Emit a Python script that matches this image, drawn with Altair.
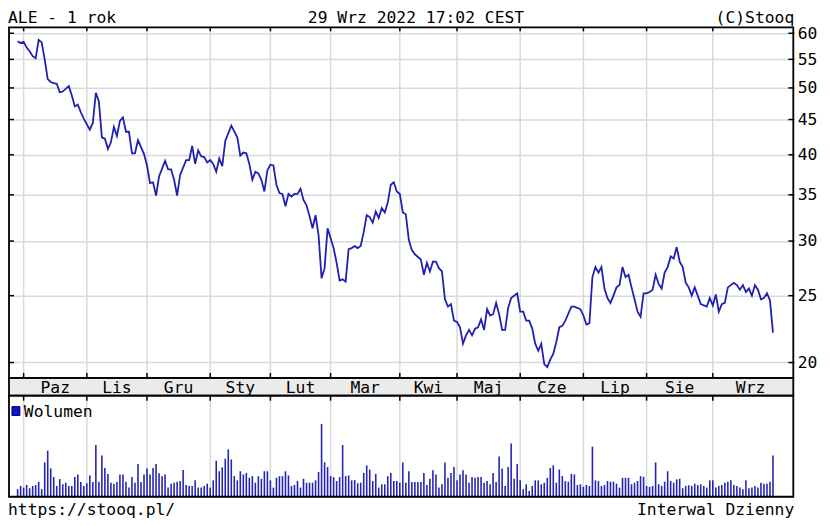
import altair as alt
import pandas as pd

# ---------------- data ----------------
month_names = ["Paz", "Lis", "Gru", "Sty", "Lut", "Mar", "Kwi", "Maj", "Cze", "Lip", "Sie", "Wrz"]
# trading-day index of the first session of each month (0 = 1 Oct 2021)
month_start_day = [0, 21, 41, 62, 82, 102, 125, 144, 165, 186, 207, 229]
price_tick_values = [20, 25, 30, 35, 40, 45, 50, 55, 60]

price_day = [
    -2, -1, 0, 1, 2, 3, 4, 5, 6, 7, 8, 9, 10, 11, 12, 13, 15, 16, 17, 18, 19, 20, 22, 23, 24,
    25, 26, 27, 28, 29, 30, 31, 32, 33, 34, 35, 36, 37, 38, 40, 41, 42, 43, 44, 45, 47, 48, 49,
    50, 51, 52, 54, 55, 56, 57, 58, 59, 60, 61, 62, 63, 64, 65, 66, 67, 69, 71, 72, 73, 74, 75,
    76, 77, 78, 79, 80, 81, 82, 83, 84, 85, 86, 87, 88, 89, 90, 91, 92, 93, 94, 95, 96, 97, 98,
    99, 100, 101, 103, 104, 105, 106, 107, 108, 109, 110, 111, 112, 113, 114, 115, 116, 117,
    118, 119, 120, 121, 122, 123, 124, 125, 126, 127, 128, 129, 130, 132, 133, 134, 135, 136,
    137, 138, 139, 140, 141, 142, 143, 144, 145, 146, 147, 148, 149, 150, 151, 152, 153, 154,
    155, 156, 157, 158, 159, 160, 161, 162, 164, 165, 166, 167, 168, 169, 170, 171, 172, 173,
    174, 175, 176, 177, 178, 179, 180, 182, 183, 185, 186, 187, 188, 189, 190, 191, 192, 193,
    194, 195, 196, 197, 198, 199, 200, 201, 202, 203, 204, 205, 206, 207, 208, 209, 210, 211,
    212, 213, 214, 215, 216, 217, 218, 219, 220, 221, 222, 223, 224, 225, 227, 228, 229, 230,
    231, 232, 233, 234, 236, 237, 238, 239, 240, 241, 242, 243, 244, 245, 246, 247, 248, 249,
]
price_close = [
    58.4, 58.1, 58.3, 57.2, 56.5, 55.6, 55.2, 58.7, 58.2, 55.0, 51.5, 51.0, 50.8, 50.7, 49.3, 49.4,
    50.3, 48.8, 47.0, 47.3, 46.1, 45.1, 43.5, 44.5, 49.2,
    47.8, 42.4, 42.2, 40.8, 41.7, 43.9, 42.6, 44.8, 45.3, 43.2, 43.2, 40.2, 40.2, 42.0, 40.1, 38.6,
    36.4, 36.5, 34.9, 37.2, 39.2, 38.1, 38.1,
    36.8, 34.9, 37.4, 39.3, 39.3, 41.2, 38.8, 40.6, 39.8, 39.7, 39.0, 39.3, 38.8, 37.8, 39.5, 38.5,
    41.9, 44.1, 42.4, 39.9, 40.3, 40.2, 38.8,
    36.8, 37.8, 37.6, 36.8, 35.4, 38.0, 38.7, 38.6, 36.2, 35.2, 35.1, 33.7, 35.1, 34.8, 35.1, 35.1,
    35.7, 34.4, 33.8, 32.6, 31.3, 32.7, 30.6,
    26.5, 27.4, 31.3, 29.3, 27.9, 26.3, 26.4, 26.2, 29.2, 29.3, 29.5, 29.3, 29.5, 30.9, 32.7, 32.5,
    31.9, 33.1,
    32.4, 33.5, 33.0, 34.1, 36.2, 36.5, 35.4, 35.1, 33.0, 32.8, 30.1, 29.1, 28.7, 28.2, 26.8, 27.9,
    27.1, 28.0,
    28.0, 27.4, 27.1, 24.7, 24.1, 24.3, 23.0, 22.9, 22.5, 21.3, 21.9, 22.3, 21.9, 22.4, 22.5, 23.1,
    22.3, 23.9,
    23.4, 23.5, 24.4, 23.5, 22.3, 22.3, 24.0, 24.8, 25.2, 23.7, 23.7, 23.0, 23.0, 22.4, 21.3, 20.8,
    21.3, 19.9,
    19.7, 20.2, 20.6, 21.4, 22.5, 22.6, 23.0, 24.1, 24.1, 23.9, 23.4, 22.7, 22.8, 26.6, 27.5, 27.0,
    27.5, 25.6,
    24.8, 24.4, 25.0, 25.7, 25.9, 27.5, 26.6, 26.8, 25.7, 24.7, 23.7, 23.3, 25.2, 25.2, 25.3, 25.5,
    26.8, 26.0,
    25.6, 27.0, 27.5, 28.5, 28.3, 29.4, 28.0, 27.5, 26.1, 25.7, 25.0, 25.7, 25.0, 24.3, 24.1, 24.8,
    24.2, 25.1,
    23.7, 24.3, 24.4, 25.7, 26.1, 25.9, 25.5, 25.9, 25.3, 25.6, 25.0, 25.9, 25.5, 24.7, 24.8, 25.2,
    24.6, 22.1,
]

volume_first_day = -2
volume = [
    7.7, 11, 9.3, 12, 8.7, 11, 12, 15.3, 7.7, 35, 47, 29, 20, 11, 18, 12.7, 14.3, 11, 11, 20,
    22.7, 15, 11, 13.7, 21.7, 15, 52.7, 15.3, 42, 29.3, 23.3, 14.3, 13.3, 15, 22.7, 22.7, 15.3,
    9.3, 20, 14.3, 33.3, 15, 22.7, 28.7, 22.7, 29.3, 33.3, 24, 21, 22.7, 9.3, 13.3, 14.3, 15.3,
    16, 27.3, 12, 11, 11, 16.7, 9.3, 9.3, 11, 13.3, 9.3, 16.7, 36.7, 26, 30, 38.7, 48.3, 38, 21,
    16.7, 26, 22.7, 24.3, 19.3, 21, 14.3, 21, 18.3, 26, 26, 16.7, 9.3, 19.3, 21, 21, 26, 21.7,
    11, 12, 16, 9.3, 18.3, 14.3, 14.3, 14.3, 16.7, 25.3, 74.3, 35, 30.3, 21, 20, 16, 20, 52.7,
    21, 21.7, 16.7, 17, 13.7, 14.3, 24.3, 32, 27.7, 16, 23.3, 9.3, 12.7, 12.7, 21, 24.3, 16, 16,
    14.3, 35, 14.3,
    26, 15, 15, 15, 15, 24.3, 12, 18.3, 27, 22.7, 9.3, 12.7, 35, 19.3, 24.3, 30.3, 16.7, 22.7,
    27, 22.7, 14.3, 20, 19.3, 20, 20, 14.3, 16, 12.7, 24.3, 15, 41, 28.7, 11, 30.3, 54.3, 18.3,
    33.3, 16.7, 7.7, 12.7, 6, 11, 16.7, 16.7, 12.7, 14.3, 19.3, 29.3, 32, 14.3, 27.7, 21, 16,
    15.3, 23.3, 22.7, 12, 12.7, 10.3, 12, 11, 51, 16.7, 16, 11, 12, 16, 15.3, 15.3, 13.3, 9.3,
    19.3, 19.3, 19.3, 12.7, 14.3, 16, 21, 20.3, 11, 10, 11, 35, 12.7, 11, 15.3, 26, 16, 14.3,
    17.7, 18.3, 8.7, 11, 11.7, 11, 13.3, 12,
    12.7, 11, 9.3, 16.7, 16.7, 9.3, 11, 12, 14.3, 15.3, 16.7, 12, 11, 9.3, 7.7, 16.7, 8.7, 9.3,
    11, 9.3, 14.3, 13.3, 13.3, 15.3, 42,
]
volume_domain = [0, 103]
price_domain = [19, 61.2]
day_domain = [-3.22, 254.1]

# ---------------- layout ----------------
W, PH, BAND, VH = 792, 354, 18, 102
H = PH + BAND + VH
FONT = "DejaVu Sans Mono"
FS = 16.5
LINE_BLUE = "#1f1fb4"
BAR_BLUE = "#2424b4"
GRID = "#d9d9d9"

price_df = pd.DataFrame({"day": price_day, "close": price_close})
vol_df = pd.DataFrame({
    "day": list(range(volume_first_day, volume_first_day + len(volume))),
    "volume": volume,
})
ends = month_start_day[1:] + [day_domain[1]]
month_df = pd.DataFrame({
    "day": month_start_day,
    "mid": [(a + b) / 2 for a, b in zip(month_start_day, ends)],
    "name": month_names,
})
tick_df = pd.DataFrame({"v": price_tick_values})
one = pd.DataFrame({"k": [0]})

x_scale = alt.Scale(domain=day_domain, nice=False, zero=False)
p_scale = alt.Scale(type="log", domain=price_domain, range=[PH, 0], nice=False)
v_scale = alt.Scale(domain=volume_domain, range=[H, H - VH], nice=False, zero=True)


def X(field):
    return alt.X(field, scale=x_scale, axis=None)


def rect(y0, y1, **kw):
    return alt.Chart(one).mark_rect(**kw).encode(
        x=alt.value(0), x2=alt.value(W), y=alt.value(y0), y2=alt.value(y1))


def label(txt, x, y, align):
    return alt.Chart(one).mark_text(font=FONT, fontSize=FS, align=align,
                                    baseline="alphabetic", color="black").encode(
        x=alt.value(x), y=alt.value(y), text=alt.value(txt))


def month_rules(y0, y1, color, width):
    return alt.Chart(month_df).mark_rule(color=color, strokeWidth=width).encode(
        x=X("day:Q"), y=alt.value(y0), y2=alt.value(y1))


def price_ticks(x0, x1):
    return alt.Chart(tick_df).mark_rule(color="black", strokeWidth=1.5).encode(
        y=alt.Y("v:Q", scale=p_scale, axis=None), x=alt.value(x0), x2=alt.value(x1))


band = rect(PH, PH + BAND, fill="#ebebeb", stroke="black", strokeWidth=1.8)
price_frame = rect(0, PH, fillOpacity=0, stroke="black", strokeWidth=1.8)
vol_frame = rect(PH + BAND, H, fillOpacity=0, stroke="black", strokeWidth=1.8)

price_line = alt.Chart(price_df).mark_line(color=LINE_BLUE, strokeWidth=1.8).encode(
    x=X("day:Q"),
    y=alt.Y("close:Q", scale=p_scale,
            axis=alt.Axis(orient="right", values=price_tick_values, grid=True, gridColor=GRID,
                          gridWidth=1.5, ticks=False, domain=False, labelFont=FONT,
                          labelFontSize=FS, labelColor="black", labelPadding=4, title=None)),
)

vol_bars = alt.Chart(vol_df).mark_bar(size=1.6, color=BAR_BLUE, strokeWidth=0).encode(
    x=X("day:Q"),
    y=alt.Y("volume:Q", scale=v_scale, axis=None),
)

month_labels = alt.Chart(month_df).mark_text(font=FONT, fontSize=FS, baseline="middle",
                                             color="black").encode(
    x=X("mid:Q"), y=alt.value(PH + BAND / 2 + 1), text="name:N")

legend_box = alt.Chart(one).mark_rect(fill="#1010e0", stroke="#000050", strokeWidth=1).encode(
    x=alt.value(3), x2=alt.value(11), y=alt.value(PH + BAND + 11), y2=alt.value(PH + BAND + 20))
legend_txt = alt.Chart(one).mark_text(font=FONT, fontSize=FS, align="left", baseline="middle",
                                      color="black").encode(
    x=alt.value(15), y=alt.value(PH + BAND + 16), text=alt.value("Wolumen"))

chart = alt.layer(
    month_rules(0, PH, GRID, 1.5),
    month_rules(PH + BAND, H, GRID, 1.5),
    band,
    price_line,
    vol_bars,
    price_frame,
    vol_frame,
    month_rules(0, 4, "black", 1.5),
    month_rules(PH - 5, PH, "black", 1.5),
    month_rules(PH + BAND, PH + BAND + 5, "black", 1.5),
    price_ticks(0, 5),
    price_ticks(W - 5, W + 1),
    month_labels,
    legend_box,
    legend_txt,
    label("ALE - 1 rok", -1, -4, "left"),
    label("29 Wrz 2022 17:02 CEST", 411, -4, "center"),
    label("(C)Stooq", W + 1, -4, "right"),
    label("https://stooq.pl/", -1, H + 18, "left"),
    label("Interwal Dzienny", W + 1, H + 18, "right"),
).resolve_scale(y="independent").properties(
    width=W, height=H,
    padding={"left": 1, "top": 17, "right": 29, "bottom": 26},
    autosize=alt.AutoSizeParams(type="none"),
).configure_view(stroke=None).configure(background="white")

chart.save("out.html", embed_options={"renderer": "svg", "actions": False})
